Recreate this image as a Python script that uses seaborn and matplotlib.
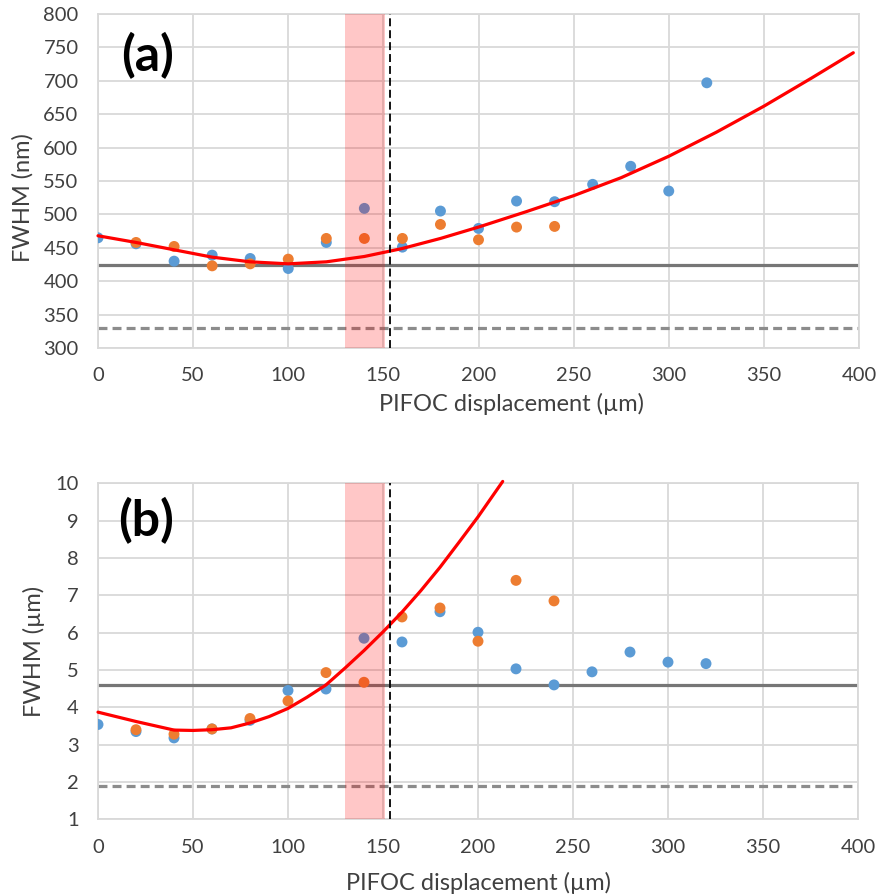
import matplotlib
matplotlib.use("Agg")
import matplotlib.pyplot as plt
import pandas as pd
import seaborn as sns

# ---- panel (a): FWHM in nm ----
a_disp_blue = [0, 20, 40, 60, 80, 100, 120, 140, 160, 180, 200, 220, 240, 260, 280, 300, 320]
a_fwhm_blue = [465, 456, 430, 439, 434, 419, 458, 509, 451, 505, 479, 520, 519, 545, 572, 535, 697]
a_disp_orange = [20, 40, 60, 80, 100, 120, 140, 160, 180, 200, 220, 240]
a_fwhm_orange = [458, 452, 423, 426, 433, 464, 464, 464, 485, 462, 481, 482]
a_fit_disp = [0, 20, 40, 60, 80, 100, 120, 140, 160, 180, 200, 225, 250, 275, 300, 325, 350, 375, 397]
a_fit_fwhm = [468, 458, 447, 436, 429, 426, 429, 437, 449, 464, 481, 504, 528, 555, 587, 623, 662, 704, 742]
a_ref_solid = 425
a_ref_dashed = 330
a_yticks = [300, 350, 400, 450, 500, 550, 600, 650, 700, 750, 800]

# ---- panel (b): FWHM in µm ----
b_disp_blue = [0, 20, 40, 60, 80, 100, 120, 140, 160, 180, 200, 220, 240, 260, 280, 300, 320]
b_fwhm_blue = [3.54, 3.35, 3.18, 3.42, 3.65, 4.45, 4.49, 5.85, 5.75, 6.56, 6.01, 5.03, 4.60, 4.95, 5.48, 5.21, 5.17]
b_disp_orange = [20, 40, 60, 80, 100, 120, 140, 160, 180, 200, 220, 240]
b_fwhm_orange = [3.40, 3.28, 3.42, 3.70, 4.17, 4.93, 4.67, 6.42, 6.66, 5.77, 7.40, 6.85]
b_fit_disp = [0, 20, 40, 50, 60, 70, 80, 90, 100, 110, 120, 130, 140, 150, 160, 170, 180, 190, 200, 213]
b_fit_fwhm = [3.87, 3.62, 3.39, 3.38, 3.40, 3.45, 3.58, 3.75, 3.97, 4.27, 4.60, 5.05, 5.52, 6.02, 6.55, 7.13, 7.75, 8.42, 9.10, 10.05]
b_ref_solid = 4.6
b_ref_dashed = 1.9
b_yticks = [1, 2, 3, 4, 5, 6, 7, 8, 9, 10]

x_ticks = [0, 50, 100, 150, 200, 250, 300, 350, 400]
focus_band = (130, 151)
focus_mark = 153.5

BLUE = "#5B9BD5"
ORANGE = "#ED7D31"
TEXT = "#404040"
GRID = "#D9D9D9"

sns.set_theme(style="white")
plt.rcParams["font.family"] = ["Lato", "DejaVu Sans"]

fig = plt.figure(figsize=(8.77, 8.96), dpi=100)
ax_a = fig.add_axes([98 / 877, 1 - 348 / 896, 761 / 877, 334 / 896])
ax_b = fig.add_axes([98 / 877, 1 - 819.3 / 896, 760 / 877, 336 / 896])


def draw_panel(ax, xb, yb, xo, yo, fx, fy, solid, dashed, yticks, ylabel, tag,
               ylab_pos, xlab_pos, tag_pos):
    pts = pd.concat([
        pd.DataFrame({"disp": xb, "fwhm": yb, "series": "blue"}),
        pd.DataFrame({"disp": xo, "fwhm": yo, "series": "orange"}),
    ], ignore_index=True)
    sns.scatterplot(data=pts, x="disp", y="fwhm", hue="series",
                    palette={"blue": BLUE, "orange": ORANGE},
                    s=62, linewidth=0, legend=False, ax=ax, zorder=3)
    ax.axhline(solid, color="#767676", lw=2.3, zorder=2)
    ax.axhline(dashed, color="#8C8C8C", lw=2.3, dashes=(2.8, 1.6), zorder=2)
    fit = pd.DataFrame({"disp": fx, "fwhm": fy})
    sns.lineplot(data=fit, x="disp", y="fwhm", color="#FF0000", lw=2.3,
                 estimator=None, ax=ax, zorder=4, clip_on=False)
    ax.axvspan(*focus_band, color="#FF0000", alpha=0.22, lw=0, zorder=5)
    ax.axvline(focus_mark, color="black", lw=1.3, dashes=(4.4, 2.2), zorder=6)

    ax.set_xlim(0, 400)
    ax.set_ylim(yticks[0], yticks[-1])
    ax.set_xticks(x_ticks)
    ax.set_yticks(yticks)
    ax.grid(True, color=GRID, lw=1.3)
    ax.set_axisbelow(True)
    for s in ax.spines.values():
        s.set_color(GRID)
        s.set_linewidth(1.3)
    ax.tick_params(axis="both", length=0, labelsize=14.5, colors=TEXT)
    ax.tick_params(axis="x", pad=14)
    ax.tick_params(axis="y", pad=14)
    ax.set_xlabel("PIFOC displacement (µm)", fontsize=17, color=TEXT)
    ax.set_ylabel(ylabel, fontsize=17, color=TEXT)
    ax.xaxis.set_label_coords(*xlab_pos)
    ax.yaxis.set_label_coords(*ylab_pos)
    ax.text(*tag_pos, tag, transform=ax.transAxes, fontsize=36,
            fontweight="bold", color="black", ha="left", va="center")


draw_panel(ax_a, a_disp_blue, a_fwhm_blue, a_disp_orange, a_fwhm_orange,
           a_fit_disp, a_fit_fwhm, a_ref_solid, a_ref_dashed, a_yticks,
           "FWHM (nm)", "(a)", (-0.085, 0.45), (0.544, -0.135), (0.030, 0.875))
draw_panel(ax_b, b_disp_blue, b_fwhm_blue, b_disp_orange, b_fwhm_orange,
           b_fit_disp, b_fit_fwhm, b_ref_solid, b_ref_dashed, b_yticks,
           "FWHM (µm)", "(b)", (-0.07, 0.5), (0.5, -0.157), (0.026, 0.89))

fig.savefig("out.png", dpi=100)
